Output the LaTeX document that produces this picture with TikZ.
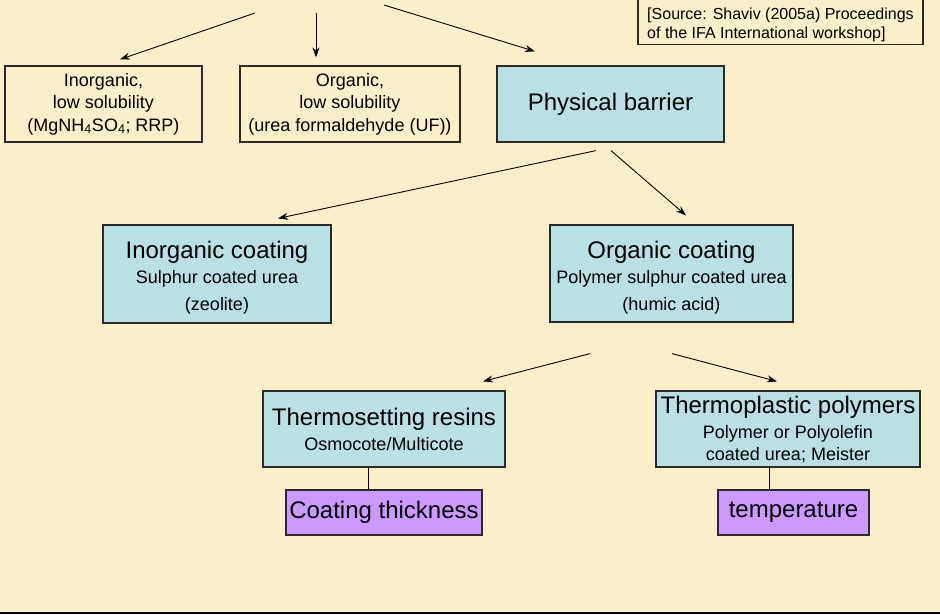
\documentclass[tikz,border=0pt]{standalone}
\usepackage{fontspec}
\setmainfont{Liberation Sans}
\usetikzlibrary{arrows.meta}
\definecolor{parch}{HTML}{FBEFC9}
\definecolor{cyanbox}{HTML}{B9E0E2}
\definecolor{purplebox}{HTML}{CC99FF}
\definecolor{edge}{HTML}{2A2A2A}
\tikzset{
  basebox/.style={draw=edge, line width=1.2pt, rectangle, inner sep=0pt, align=center},
  plainbox/.style={basebox, font=\fontsize{18}{22.5}\selectfont},
  cyanbx/.style={basebox, fill=cyanbox},
  purplebx/.style={basebox, fill=purplebox, font=\fontsize{24}{28}\selectfont},
  srctext/.style={rectangle, align=left, inner xsep=9pt, inner ysep=0pt, font=\fontsize{16}{19}\selectfont},
  boxline/.style={draw=edge, line width=1.2pt},
  arr/.style={-{Stealth[length=10pt,width=7pt]}, line width=0.9pt, black},
  conn/.style={line width=0.9pt, black},
  big/.style={font=\fontsize{24}{28}\selectfont},
}
\newcommand{\bigtxt}{\fontsize{24}{28}\selectfont}
\begin{document}
\begin{tikzpicture}[x=1pt,y=-1pt]
\fill[parch] (0,0) rectangle (940,614);
\useasboundingbox (0,0) rectangle (940,614);
\fill[black] (0,611.5) rectangle (940,614);

% source box
\node[srctext, minimum width=281pt, minimum height=46pt] (src) at (780.5,25) {[Source: Shaviv (2005a) Proceedings\\of the IFA International workshop]};
\draw[boxline] ([yshift=4pt]src.north west) rectangle ([yshift=4pt]src.south east);

% first row
\node[plainbox, minimum width=197pt, minimum height=76pt] (a) at (103.5,104) {Inorganic,\\low solubility\\(MgNH\textsubscript{4}SO\textsubscript{4}; RRP)};
\node[plainbox, minimum width=220pt, minimum height=76pt] (b) at (350,104) {Organic,\\low solubility\\(urea formaldehyde (UF))};
\node[cyanbx, big, minimum width=227pt, minimum height=76pt] (pb) at (610.5,104) {Physical barrier};

% second row
\node[cyanbx, font=\fontsize{18}{27}\selectfont, minimum width=228pt, minimum height=98pt] (ic) at (217,274) {{\bigtxt\rule{0pt}{25pt}Inorganic coating}\\[-2pt]Sulphur coated urea\\(zeolite)};
\node[cyanbx, font=\fontsize{18}{27}\selectfont, minimum width=243pt, minimum height=97pt] (oc) at (671.5,273.5) {{\bigtxt\rule{0pt}{25pt}Organic coating}\\[-2pt]Polymer sulphur coated urea\\(humic acid)};

% third row
\node[cyanbx, font=\fontsize{18}{25}\selectfont, minimum width=242pt, minimum height=76pt] (ts) at (384,429) {{\bigtxt Thermosetting resins}\\Osmocote/Multicote};
\node[cyanbx, font=\fontsize{18}{22}\selectfont, minimum width=264pt, minimum height=76pt] (tp) at (788,429) {{\bigtxt Thermoplastic polymers}\\[3pt]Polymer or Polyolefin\\coated urea; Meister};

% fourth row
\node[purplebx, minimum width=196pt, minimum height=45pt] (ct) at (384,512.5) {Coating thickness};
\node[purplebx, minimum width=151pt, minimum height=45pt] (tm) at (793.5,512.5) {temperature};

% top arrows with free starts
\coordinate (s1) at (255,13);
\coordinate (s2) at (316,13);
\coordinate (s3) at (384,5);
\draw[arr] (s1) -- ([shift={(16.5,-6)}]a.north);
\draw[arr] (s2) -- ([shift={(-34,-8)}]b.north);
\draw[arr] (s3) -- ([shift={(-75.5,-14)}]pb.north);

% physical barrier arrows
\draw[arr] ([shift={(-14.5,8)}]pb.south) -- ([shift={(61,-6)}]ic.north);
\draw[arr] ([shift={(0.5,8)}]pb.south) -- ([shift={(14.5,-9)}]oc.north);

% organic coating arrows
\draw[arr] ([shift={(-81.5,31)}]oc.south) -- ([shift={(99,-9)}]ts.north);
\draw[arr] ([shift={(0.5,31)}]oc.south) -- ([shift={(-11,-9)}]tp.north);

% plain connectors
\draw[conn] ([xshift=-16pt]ts.south) -- ([xshift=-16pt]ct.north);
\draw[conn] ([xshift=-19pt]tp.south) -- ([xshift=-24.5pt]tm.north);
\end{tikzpicture}
\end{document}
